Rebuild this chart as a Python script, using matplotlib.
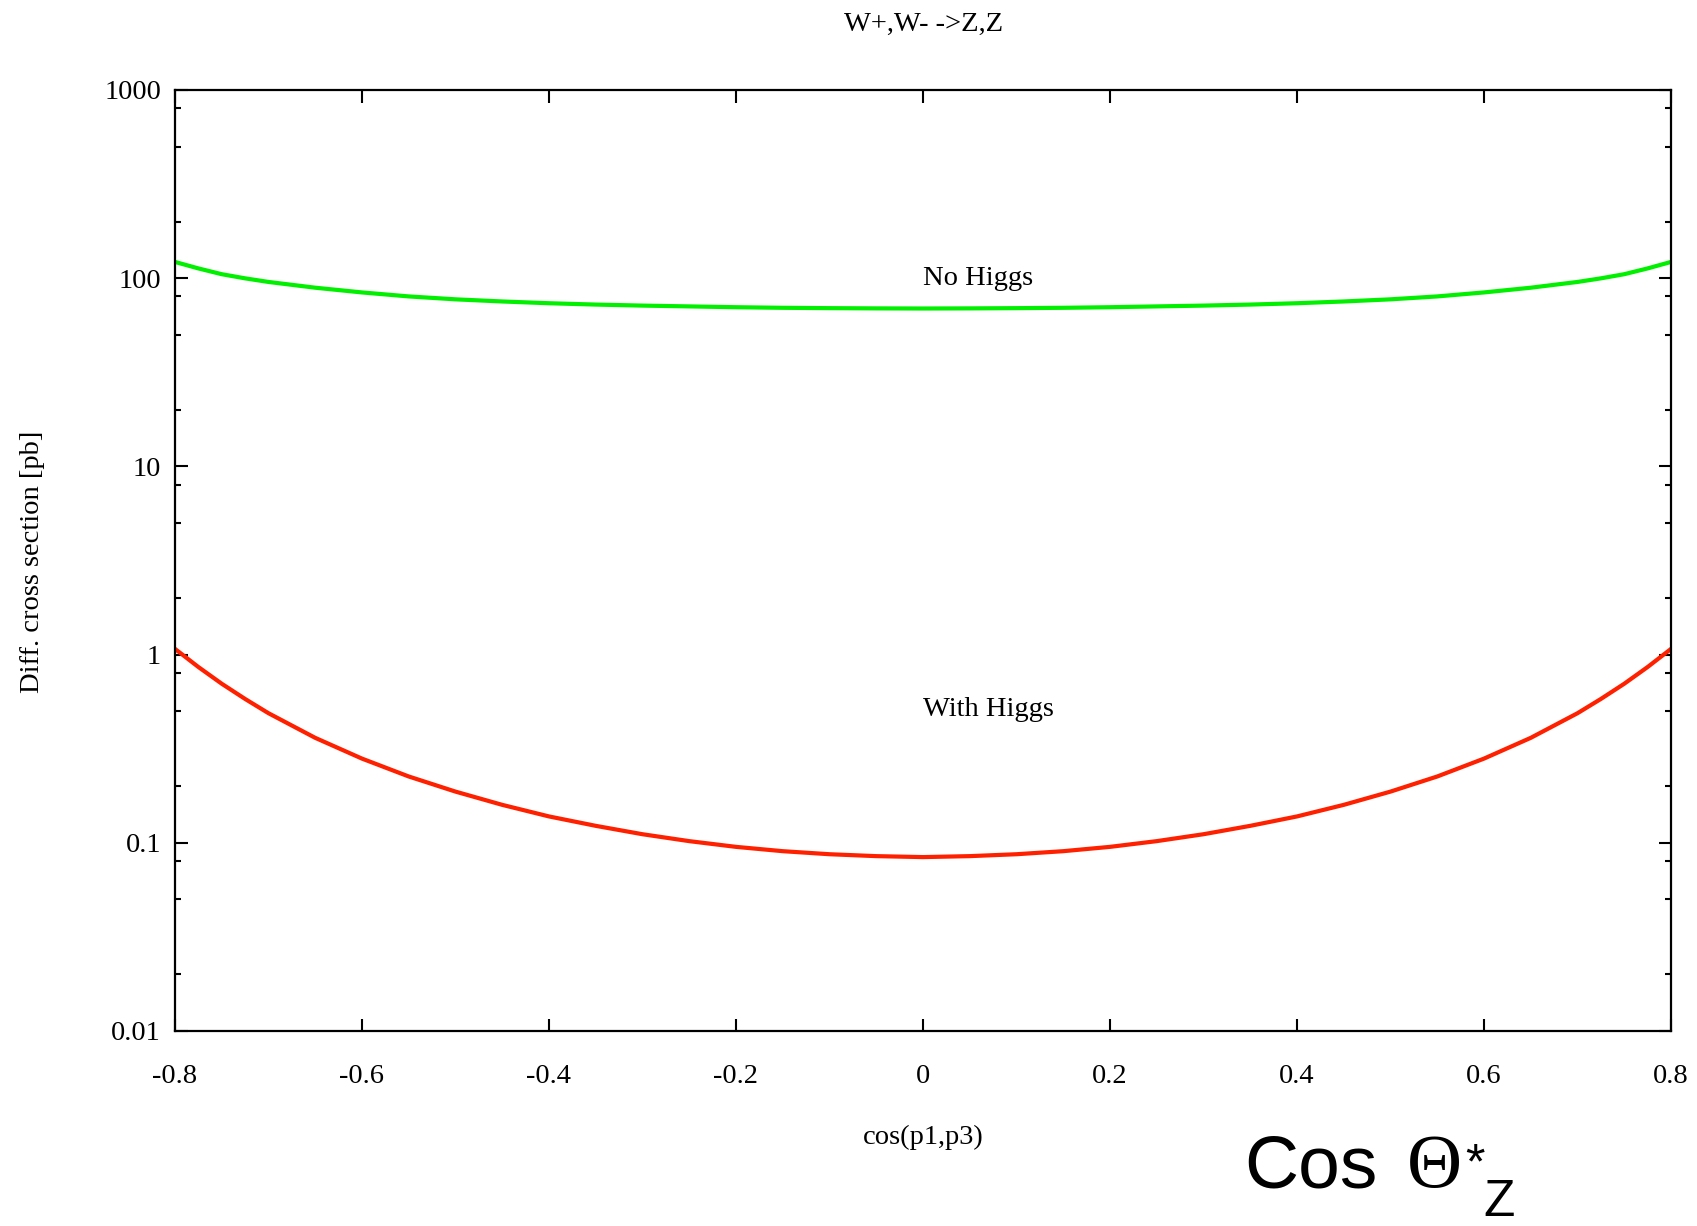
import numpy as np
import matplotlib
matplotlib.use("Agg")
import matplotlib.pyplot as plt
from matplotlib.ticker import FixedLocator, NullFormatter

# cos(theta*) sampling points
cos_theta = [-0.800, -0.775, -0.750, -0.725, -0.70, -0.65, -0.60, -0.55, -0.50,
             -0.45, -0.40, -0.35, -0.30, -0.25, -0.20, -0.15, -0.10, -0.05,
             0.00,
             0.05, 0.10, 0.15, 0.20, 0.25, 0.30, 0.35, 0.40, 0.45,
             0.50, 0.55, 0.60, 0.65, 0.70, 0.725, 0.750, 0.775, 0.800]

# differential cross section without Higgs [pb]
no_higgs = [122.0, 112.7, 105.0, 99.8, 95.5, 89.0, 84.0, 80.0, 77.2,
            75.2, 73.6, 72.4, 71.5, 70.8, 70.1, 69.6, 69.3, 69.1,
            69.0,
            69.1, 69.3, 69.6, 70.1, 70.8, 71.5, 72.4, 73.6, 75.2,
            77.2, 80.0, 84.0, 89.0, 95.5, 99.8, 105.0, 112.7, 122.0]

# differential cross section with Higgs [pb]
with_higgs = [1.072, 0.859, 0.700, 0.581, 0.488, 0.361, 0.280, 0.225, 0.187,
              0.159, 0.138, 0.123, 0.111, 0.102, 0.0951, 0.0902, 0.0869, 0.0849,
              0.0839,
              0.0849, 0.0869, 0.0902, 0.0951, 0.102, 0.111, 0.123, 0.138, 0.159,
              0.187, 0.225, 0.280, 0.361, 0.488, 0.581, 0.700, 0.859, 1.072]

x_ticks = [-0.8, -0.6, -0.4, -0.2, 0, 0.2, 0.4, 0.6, 0.8]
x_ticklabels = ["-0.8", "-0.6", "-0.4", "-0.2", "0", "0.2", "0.4", "0.6", "0.8"]
y_ticks = [0.01, 0.1, 1, 10, 100, 1000]
y_ticklabels = ["0.01", "0.1", "1", "10", "100", "1000"]

serif = "Liberation Serif"
sans = "Liberation Sans"
fs = 20.5

fig = plt.figure(figsize=(16.97, 12.26), dpi=100)
ax = fig.add_axes([0.1031, 0.1591, 0.8816, 0.7675])

ax.plot(cos_theta, no_higgs, color="#00f000", lw=3.0, solid_joinstyle="round")
ax.plot(cos_theta, with_higgs, color="#ff2000", lw=3.0, solid_joinstyle="round")

ax.set_yscale("log")
ax.set_xlim(-0.8, 0.8)
ax.set_ylim(0.01, 1000)

ax.set_xticks(x_ticks)
ax.set_xticklabels(x_ticklabels, fontfamily=serif, fontsize=fs)
ax.yaxis.set_major_locator(FixedLocator(y_ticks))
ax.set_yticklabels(y_ticklabels, fontfamily=serif, fontsize=fs)
minor = [m * 10.0 ** e for e in range(-2, 3) for m in (2, 5, 8)]
ax.yaxis.set_minor_locator(FixedLocator(minor))
ax.yaxis.set_minor_formatter(NullFormatter())

ax.tick_params(which="both", direction="in", top=True, right=True, width=1.5)
ax.tick_params(which="major", length=9)
ax.tick_params(which="minor", length=4.5)
ax.tick_params(axis="x", pad=24)
ax.tick_params(axis="y", pad=10)
for s in ax.spines.values():
    s.set_linewidth(1.6)

ax.text(0.0, 100, "No Higgs", fontfamily=serif, fontsize=fs, ha="left", va="center")
ax.text(0.0, 0.51, "With Higgs", fontfamily=serif, fontsize=fs, ha="left", va="center")

fig.text(0.544, 0.980, "W+,W- ->Z,Z", fontfamily=serif, fontsize=fs, ha="center", va="center")
fig.text(0.544, 0.072, "cos(p1,p3)", fontfamily=serif, fontsize=fs, ha="center", va="center")
fig.text(0.019, 0.542, "Diff. cross section [pb]", fontfamily=serif, fontsize=fs,
         ha="center", va="center", rotation=90)

# big annotation at the bottom right
fig.text(0.7335, 1 - 1187 / 1226, "Cos", fontfamily=sans, fontsize=54, ha="left", va="baseline")
fig.text(0.829, 1 - 1187 / 1226, "Θ", fontfamily=serif, fontsize=55, ha="left", va="baseline")
fig.text(0.8635, 1 - 1178 / 1226, "*", fontfamily=sans, fontsize=36, ha="left", va="baseline")
fig.text(0.874, 1 - 1216 / 1226, "Z", fontfamily=sans, fontsize=37, ha="left", va="baseline")

fig.savefig("out.png", dpi=100)
